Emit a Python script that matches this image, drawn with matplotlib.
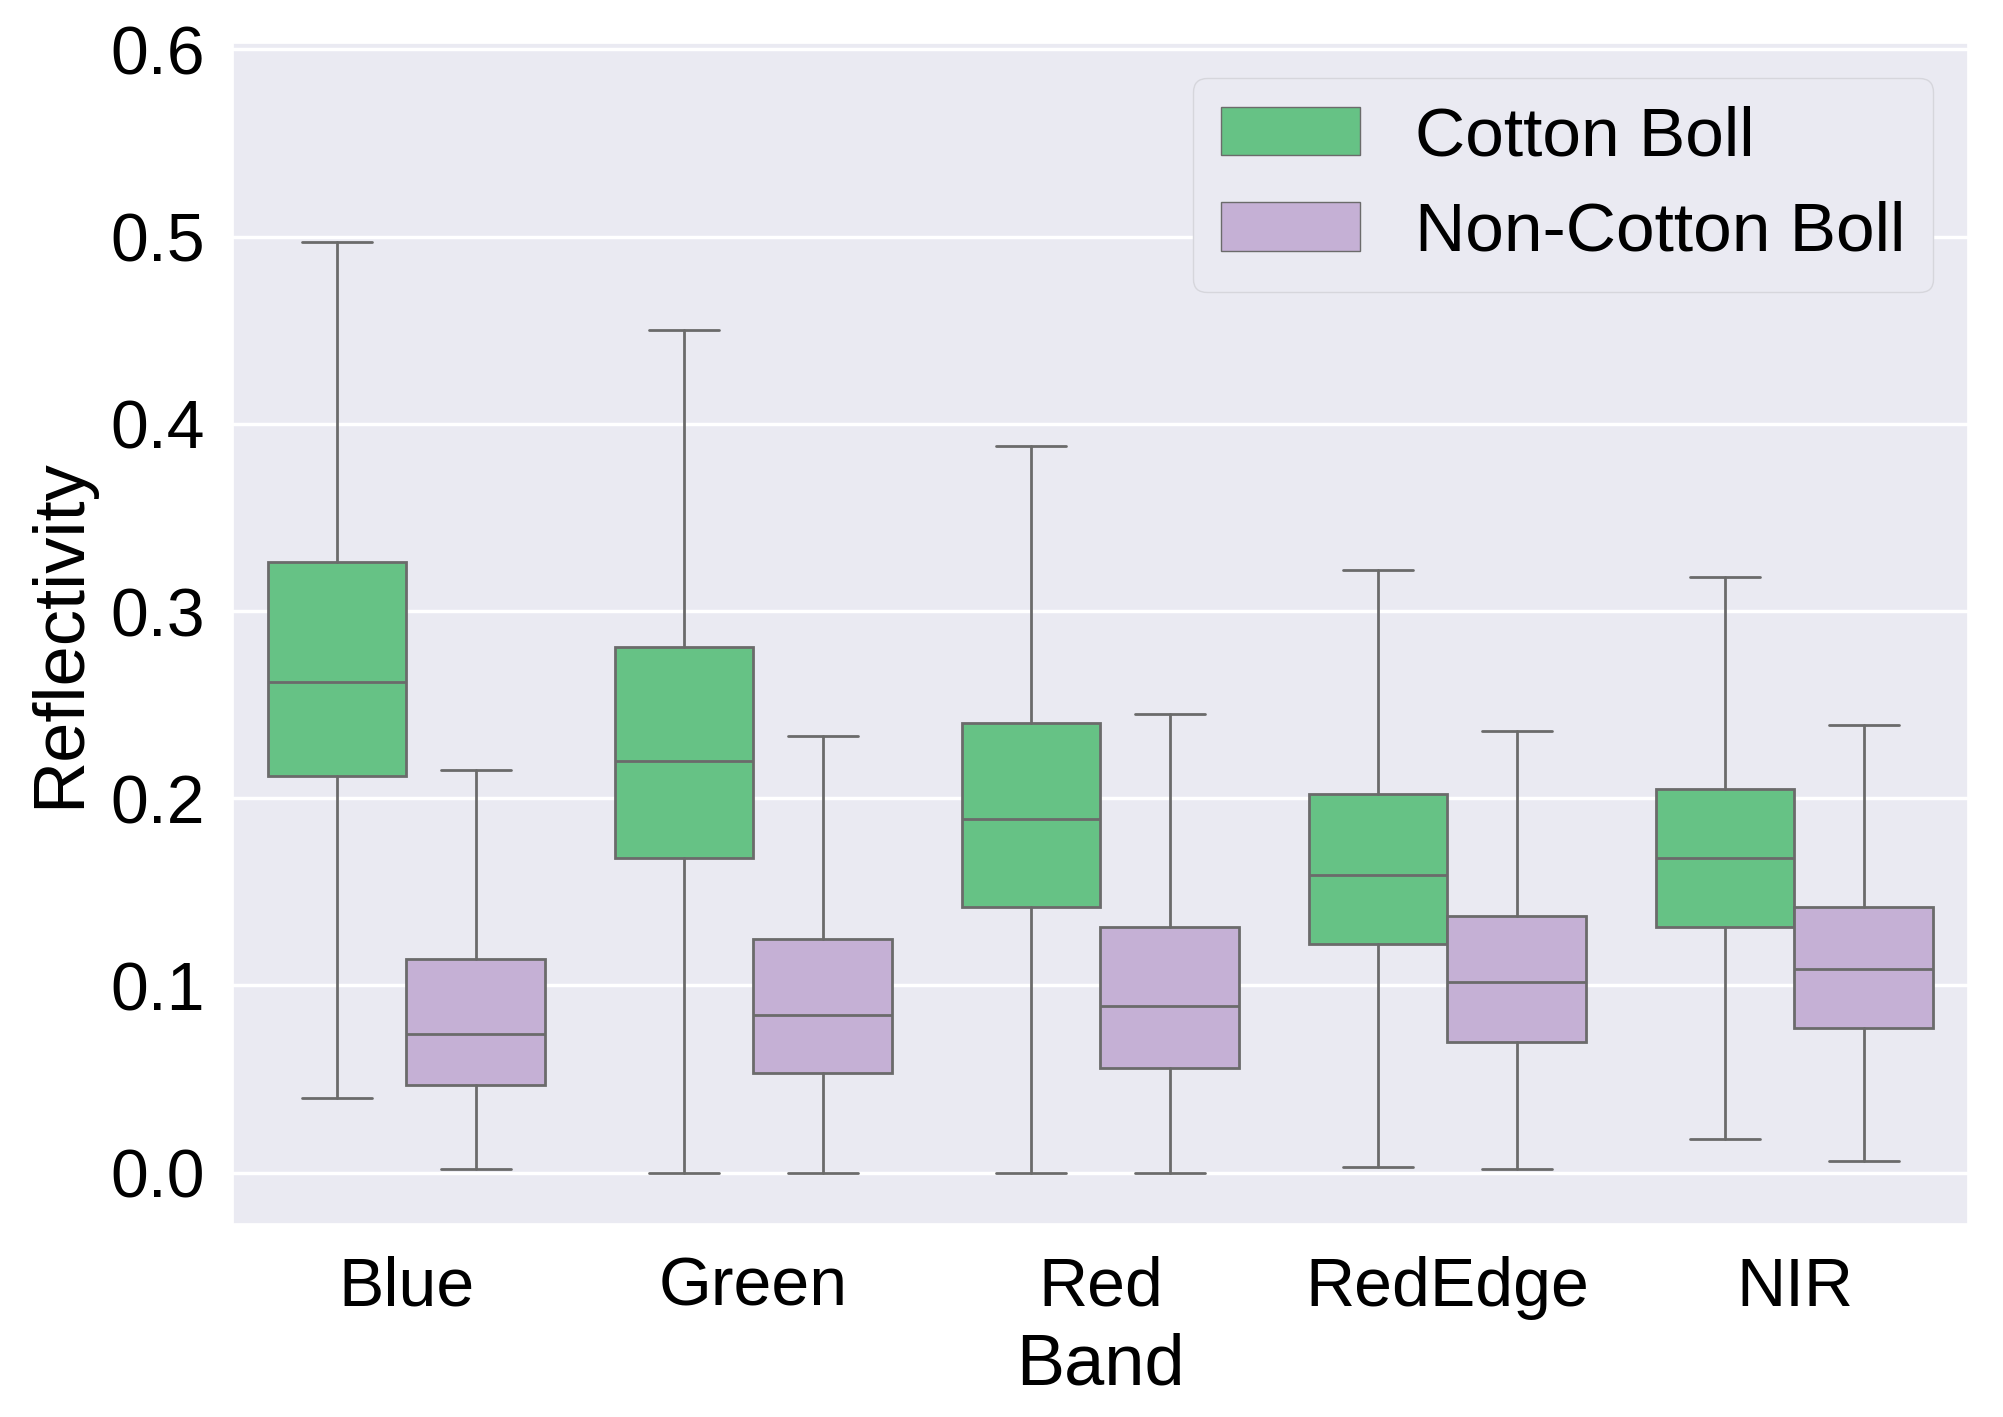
import matplotlib
matplotlib.use("Agg")
import matplotlib.pyplot as plt
import matplotlib.patches as mpatches
import seaborn as sns
import numpy as np

bands = ["Blue", "Green", "Red", "RedEdge", "NIR"]
groups = ["Cotton Boll", "Non-Cotton Boll"]

# box statistics per band: whisker low, q1, median, q3, whisker high
cotton_whislo = [0.040, 0.000, 0.000, 0.003, 0.018]
cotton_q1     = [0.212, 0.168, 0.142, 0.122, 0.131]
cotton_med    = [0.262, 0.220, 0.189, 0.159, 0.168]
cotton_q3     = [0.326, 0.281, 0.240, 0.202, 0.205]
cotton_whishi = [0.497, 0.450, 0.388, 0.322, 0.318]

non_whislo = [0.002, 0.000, 0.000, 0.002, 0.006]
non_q1     = [0.047, 0.053, 0.056, 0.070, 0.077]
non_med    = [0.074, 0.084, 0.089, 0.102, 0.109]
non_q3     = [0.114, 0.125, 0.131, 0.137, 0.142]
non_whishi = [0.215, 0.233, 0.245, 0.236, 0.239]

colors = ["#66c285", "#c5b0d5"]
line_color = "#6b6b6b"

sns.set_theme(style="darkgrid")
plt.rcParams['font.family'] = ['Liberation Sans', 'DejaVu Sans']
plt.rcParams['text.color'] = 'black'
plt.rcParams['axes.labelcolor'] = 'black'
plt.rcParams['xtick.color'] = 'black'
plt.rcParams['ytick.color'] = 'black'

fig = plt.figure(figsize=(20.03, 14.17), dpi=100)
ax = fig.add_axes([0.1163, 0.1362, 0.8662, 0.8335])

def make_stats(lo, q1, med, q3, hi):
    return [dict(whislo=a, q1=b, med=c, q3=d, whishi=e, fliers=[])
            for a, b, c, d, e in zip(lo, q1, med, q3, hi)]

series = [
    make_stats(cotton_whislo, cotton_q1, cotton_med, cotton_q3, cotton_whishi),
    make_stats(non_whislo, non_q1, non_med, non_q3, non_whishi),
]
offsets = [-0.2, 0.2]
x = np.arange(len(bands))
lw = 2.0
for stats, off, col in zip(series, offsets, colors):
    ax.bxp(stats, positions=x + off, widths=0.4, capwidths=0.2,
           patch_artist=True, showfliers=False,
           boxprops=dict(facecolor=col, edgecolor=line_color, linewidth=lw),
           medianprops=dict(color=line_color, linewidth=lw),
           whiskerprops=dict(color=line_color, linewidth=lw),
           capprops=dict(color=line_color, linewidth=lw),
           manage_ticks=False)

ax.set_xlim(-0.5, 4.5)
ax.set_ylim(-0.0275, 0.6035)
ax.set_xticks(x)
ax.set_xticklabels(bands)
ax.set_yticks([0.0, 0.1, 0.2, 0.3, 0.4, 0.5, 0.6])
ax.set_yticklabels(["0.0", "0.1", "0.2", "0.3", "0.4", "0.5", "0.6"])
ax.tick_params(axis='y', labelsize=49, pad=14, colors='black')
ax.tick_params(axis='x', labelsize=49, pad=17, colors='black')
ax.set_xlabel("Band", fontsize=52, labelpad=9, color='black')
ax.set_ylabel("Reflectivity", fontsize=52, labelpad=12, color='black')
ax.grid(True, axis='both', color='white', linewidth=2.5)
ax.xaxis.grid(False)

handles = [mpatches.Patch(facecolor=c, edgecolor=line_color, linewidth=1.0, label=g)
           for c, g in zip(colors, groups)]
ax.legend(handles=handles, loc='upper right', fontsize=50,
          handlelength=2.0, handleheight=0.7, handletextpad=0.8,
          labelspacing=0.45, frameon=True, facecolor='#eaeaf2',
          edgecolor='#d6d6dc', framealpha=1.0, labelcolor='black')

fig.savefig("out.png", dpi=100)
